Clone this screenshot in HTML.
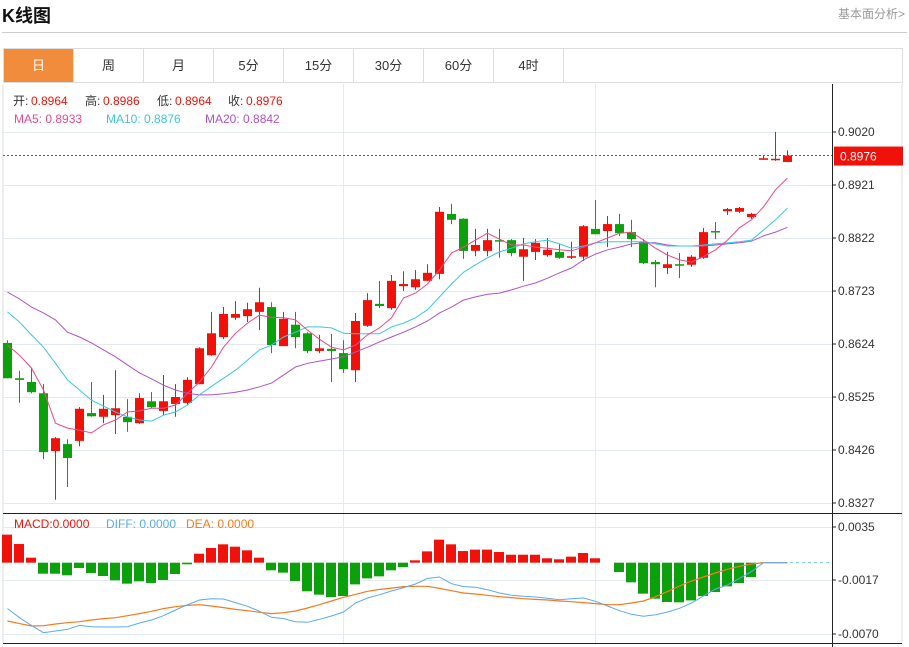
<!DOCTYPE html>
<html><head><meta charset="utf-8">
<style>
body{margin:0;width:909px;height:647px;background:#fff;overflow:hidden;font-family:"Liberation Sans","Noto Sans CJK SC",sans-serif;position:relative}
.title{position:absolute;left:2px;top:2px;font-size:18px;font-weight:bold;color:#111}
.more{position:absolute;right:4px;top:5px;font-size:12px;color:#999}
.hr{position:absolute;left:2px;top:32px;width:905px;height:1px;background:#ccc}
.tabs{position:absolute;left:3px;top:48px;width:900px;height:35px;border:1px solid #ddd;box-sizing:border-box;display:flex}
.tab{width:70px;height:100%;border-right:1px solid #ddd;box-sizing:border-box;font-size:13px;color:#333;text-align:center;line-height:34px}
.tab.on{background:#f08c3c;color:#fff}
svg{position:absolute;left:0;top:0}
</style></head><body>
<div class="title">K线图</div>
<div class="more">基本面分析&gt;</div>
<div class="hr"></div>
<div class="tabs">
<div class="tab on">日</div>
<div class="tab">周</div>
<div class="tab">月</div>
<div class="tab">5分</div>
<div class="tab">15分</div>
<div class="tab">30分</div>
<div class="tab">60分</div>
<div class="tab">4时</div>
</div>
<svg id="chart" width="909" height="647"></svg>
<script>
const opens=[0.8626,0.8560,0.8553,0.8532,0.8424,0.8437,0.8443,0.8495,0.8488,0.8491,0.8488,0.8476,0.8517,0.8499,0.8512,0.8514,0.8549,0.8603,0.8637,0.8673,0.8676,0.8684,0.8693,0.8620,0.8660,0.8644,0.8611,0.8615,0.8607,0.8575,0.8658,0.8699,0.8691,0.8732,0.8730,0.8742,0.8755,0.8867,0.8858,0.8798,0.8798,0.8818,0.8818,0.8787,0.8796,0.8790,0.8796,0.8785,0.8787,0.8839,0.8835,0.8848,0.8833,0.8815,0.8777,0.8766,0.8773,0.8772,0.8785,0.8835,0.8872,0.8871,0.8861,0.8968,0.8968,0.8964];
const highs=[0.8631,0.8574,0.8579,0.8549,0.8450,0.8446,0.8506,0.8553,0.8529,0.8575,0.8521,0.8532,0.8534,0.8566,0.8549,0.8562,0.8618,0.8684,0.8693,0.8704,0.8701,0.8729,0.8702,0.8684,0.8684,0.8646,0.8641,0.8643,0.8631,0.8682,0.8719,0.8742,0.8753,0.8760,0.8762,0.8773,0.8880,0.8886,0.8859,0.8839,0.8839,0.8839,0.8820,0.8822,0.8820,0.8822,0.8811,0.8815,0.8846,0.8893,0.8863,0.8867,0.8856,0.8820,0.8781,0.8796,0.8794,0.8790,0.8841,0.8852,0.8878,0.8880,0.8869,0.8975,0.9020,0.8986];
const lows=[0.8560,0.8514,0.8532,0.8409,0.8333,0.8357,0.8433,0.8488,0.8476,0.8456,0.8460,0.8475,0.8504,0.8491,0.8488,0.8510,0.8549,0.8602,0.8633,0.8669,0.8665,0.8650,0.8607,0.8620,0.8616,0.8607,0.8607,0.8553,0.8570,0.8553,0.8656,0.8691,0.8688,0.8723,0.8725,0.8742,0.8745,0.8848,0.8783,0.8788,0.8788,0.8785,0.8788,0.8742,0.8781,0.8787,0.8783,0.8783,0.8779,0.8829,0.8805,0.8826,0.8805,0.8773,0.8730,0.8755,0.8747,0.8768,0.8783,0.8820,0.8865,0.8869,0.8858,0.8968,0.8966,0.8964];
const closes=[0.8560,0.8557,0.8534,0.8422,0.8448,0.8411,0.8503,0.8489,0.8503,0.8504,0.8478,0.8523,0.8506,0.8517,0.8525,0.8557,0.8616,0.8644,0.8680,0.8680,0.8689,0.8702,0.8622,0.8671,0.8637,0.8611,0.8616,0.8611,0.8577,0.8667,0.8706,0.8695,0.8742,0.8736,0.8745,0.8757,0.8871,0.8856,0.8798,0.8809,0.8818,0.8816,0.8794,0.8801,0.8813,0.8800,0.8785,0.8788,0.8844,0.8829,0.8848,0.8831,0.8820,0.8775,0.8773,0.8773,0.8772,0.8787,0.8833,0.8833,0.8876,0.8878,0.8867,0.8971,0.8970,0.8976];
const ma5=[0.8622,0.8603,0.8579,0.8538,0.8476,0.8467,0.8463,0.8458,0.8473,0.8482,0.8497,0.8499,0.8504,0.8504,0.8510,0.8532,0.8553,0.8581,0.8618,0.8644,0.8663,0.8678,0.8674,0.8673,0.8669,0.8650,0.8633,0.8618,0.8613,0.8622,0.8641,0.8654,0.8673,0.8710,0.8719,0.8736,0.8762,0.8794,0.8805,0.8818,0.8831,0.8820,0.8809,0.8809,0.8805,0.8803,0.8800,0.8798,0.8805,0.8813,0.8822,0.8831,0.8833,0.8818,0.8803,0.8790,0.8781,0.8777,0.8787,0.8800,0.8818,0.8841,0.8856,0.8880,0.8912,0.8934];
const ma10=[0.8684,0.8665,0.8641,0.8618,0.8588,0.8557,0.8538,0.8519,0.8508,0.8497,0.8488,0.8482,0.8480,0.8491,0.8497,0.8510,0.8529,0.8545,0.8560,0.8575,0.8594,0.8613,0.8622,0.8637,0.8646,0.8656,0.8656,0.8654,0.8644,0.8643,0.8643,0.8643,0.8656,0.8663,0.8673,0.8688,0.8712,0.8736,0.8758,0.8772,0.8785,0.8796,0.8803,0.8811,0.8815,0.8818,0.8811,0.8803,0.8807,0.8813,0.8815,0.8815,0.8815,0.8815,0.8811,0.8807,0.8807,0.8807,0.8809,0.8811,0.8813,0.8815,0.8818,0.8837,0.8856,0.8878];
const ma20=[0.8721,0.8708,0.8693,0.8682,0.8669,0.8646,0.8637,0.8626,0.8613,0.8600,0.8585,0.8570,0.8559,0.8547,0.8538,0.8532,0.8529,0.8529,0.8531,0.8534,0.8538,0.8544,0.8551,0.8566,0.8581,0.8588,0.8592,0.8596,0.8600,0.8609,0.8618,0.8628,0.8637,0.8646,0.8656,0.8667,0.8682,0.8693,0.8706,0.8712,0.8717,0.8719,0.8725,0.8732,0.8738,0.8747,0.8757,0.8766,0.8781,0.8792,0.8800,0.8805,0.8811,0.8813,0.8813,0.8809,0.8807,0.8807,0.8807,0.8809,0.8811,0.8813,0.8816,0.8826,0.8833,0.8842];
const macdHist=[0.00275,0.00183,0.00049,-0.00108,-0.00108,-0.00124,-0.00052,-0.00101,-0.00131,-0.00173,-0.00206,-0.00183,-0.00199,-0.0017,-0.00111,-0.00016,0.00088,0.00144,0.0018,0.00157,0.00121,0.00049,-0.00075,-0.00098,-0.0018,-0.00281,-0.00314,-0.00337,-0.00327,-0.00213,-0.00154,-0.00134,-0.00075,-0.00043,0.00023,0.00111,0.00226,0.0018,0.00114,0.00128,0.00128,0.00105,0.00078,0.00078,0.00078,0.00043,0.00033,0.00059,0.00095,0.00043,0,-0.00092,-0.00193,-0.00304,-0.00353,-0.00386,-0.00389,-0.0037,-0.00327,-0.00288,-0.00232,-0.002,-0.00141,0,0,0];
const diff=[-0.00451,-0.0054,-0.00615,-0.00687,-0.0067,-0.00654,-0.00615,-0.00628,-0.00631,-0.00631,-0.00628,-0.00592,-0.00562,-0.0052,-0.00464,-0.00412,-0.00366,-0.00353,-0.00356,-0.00392,-0.00428,-0.00477,-0.00536,-0.00549,-0.00579,-0.00585,-0.00556,-0.00523,-0.00484,-0.00396,-0.00347,-0.00314,-0.00278,-0.00245,-0.00209,-0.00154,-0.00141,-0.00206,-0.00235,-0.00242,-0.00265,-0.00298,-0.0032,-0.0033,-0.00337,-0.0035,-0.00363,-0.00353,-0.00347,-0.00379,-0.00425,-0.00471,-0.00507,-0.00526,-0.0051,-0.00484,-0.00448,-0.00396,-0.00327,-0.00258,-0.00219,-0.00154,-0.00088,0,0,0];
const dea=[-0.00572,-0.00598,-0.00621,-0.00618,-0.00602,-0.00589,-0.00579,-0.00562,-0.00549,-0.0054,-0.0052,-0.005,-0.00477,-0.00451,-0.00432,-0.00419,-0.00412,-0.00425,-0.00441,-0.00458,-0.00471,-0.00487,-0.005,-0.00491,-0.00474,-0.00445,-0.00412,-0.00376,-0.0034,-0.00311,-0.00281,-0.00262,-0.00249,-0.00235,-0.00232,-0.00232,-0.00252,-0.00275,-0.00298,-0.00307,-0.0032,-0.00334,-0.00343,-0.00353,-0.0036,-0.00366,-0.00376,-0.00383,-0.00392,-0.00402,-0.00412,-0.00412,-0.00396,-0.00376,-0.00334,-0.00284,-0.00229,-0.0018,-0.00141,-0.00101,-0.00065,-0.00036,-0.00013,0,0,0];
const priceTicks=["0.9020","0.8921","0.8822","0.8723","0.8624","0.8525","0.8426","0.8327"];
const macdTicks=["0.0035","-0.0017","-0.0070"];
const lastPrice=0.8976;

const NS="http://www.w3.org/2000/svg";
const svg=document.getElementById('chart');
function el(tag,attrs,parent){const e=document.createElementNS(NS,tag);for(const k in attrs)e.setAttribute(k,attrs[k]);(parent||svg).appendChild(e);return e;}
const AX=832;
const xAt=i=>7+12*i;
const yP=p=>132+(0.9020-p)/0.0099*53;
const yM=v=>527+(0.0035-v)/0.0052*53;

// frame
const frame=el('g',{});


el('line',{x1:3,y1:84,x2:3,y2:643,stroke:'#ddd'},frame);
el('line',{x1:902,y1:84,x2:902,y2:643,stroke:'#ddd'},frame);
// grid
const grid=el('g',{stroke:'#e3ebf1','stroke-width':1});


priceTicks.forEach(t=>{const y=Math.round(yP(+t))+0.5;el('line',{x1:3,y1:y,x2:AX,y2:y},grid);});
macdTicks.forEach(t=>{const y=Math.round(yM(+t))+0.5;el('line',{x1:3,y1:y,x2:AX,y2:y},grid);});
[343.5,595.5].forEach(x=>el('line',{x1:x,y1:84,x2:x,y2:643},grid));
// axes
const axes=el('g',{stroke:'#222'});


el('line',{x1:AX+0.5,y1:84,x2:AX+0.5,y2:647},axes);
el('line',{x1:3,y1:513.5,x2:902,y2:513.5},axes);
el('line',{x1:3,y1:643.5,x2:902,y2:643.5},axes);
// tick labels
priceTicks.forEach(t=>{const y=yP(+t);
 el('line',{x1:AX,y1:y,x2:AX+4,y2:y,stroke:'#222'});
 const tx=el('text',{x:838,y:y+4,'font-size':12,fill:'#333'});tx.textContent=t;
 
 });
macdTicks.forEach(t=>{const y=yM(+t);
 el('line',{x1:AX,y1:y,x2:AX+4,y2:y,stroke:'#222'});
 const tx=el('text',{x:838,y:y+4,'font-size':12,fill:'#333'});tx.textContent=t;
 
 });
// last price line
const ly=yP(lastPrice);
const lp=el('line',{x1:3,y1:ly,x2:AX,y2:ly,stroke:'#e8251a','stroke-dasharray':'2,2'});


const lb=el('rect',{x:834,y:ly-9,width:69,height:19,fill:'#f0120a'});


const lt=el('text',{x:840,y:ly+5,'font-size':12,fill:'#fff'});lt.textContent=lastPrice.toFixed(4);


// candles
opens.forEach((o,i)=>{const c=closes[i],up=c>=o,col=up?'#f0120a':'#0ca00c',x=xAt(i);
 const g=el('g',{fill:col,stroke:col});
 
 
 el('line',{x1:x+0.5,y1:yP(highs[i]),x2:x+0.5,y2:yP(lows[i]),'stroke-width':1},g);
 const t=Math.min(yP(o),yP(c)),h=Math.max(1.5,Math.abs(yP(o)-yP(c)));
 el('rect',{x:x-4,y:t,width:9,height:h,stroke:'none'},g);});
// MA lines
function line(arr,yf,col,name,w){const pts=arr.map((v,i)=>xAt(i)+0.5+','+yf(v).toFixed(1)).join(' ');
 const p=el('polyline',{points:pts,fill:'none',stroke:col,'stroke-width':w||1});
 
 }
line(ma20,yP,'#b052c8','ma20-line');
line(ma10,yP,'#3cc8dc','ma10-line');
line(ma5,yP,'#ee4a86','ma5-line');
// MACD
const z=yM(0);
const zl=el('line',{x1:760,y1:z,x2:AX,y2:z,stroke:'#7cc8e8','stroke-dasharray':'3,3'});


macdHist.forEach((v,i)=>{if(v===0)return;const y=yM(v);
 const r=el('rect',{x:xAt(i)-5,y:Math.min(y,z),width:10,height:Math.abs(y-z),fill:v>0?'#f0120a':'#0ca00c'});
 
 });
line(dea,yM,'#f57a1e','dea-line',1.2);
line(diff,yM,'#5aaaf0','diff-line',1);
// legends
function txt(x,y,s,col,name){const t=el('text',{x:x,y:y,'font-size':12,fill:col});t.textContent=s;
 
 return t;}
txt(13,105,'开:','#333','open-label');txt(31,105,'0.8964','#f0120a','open-value');
txt(85,105,'高:','#333','high-label');txt(103,105,'0.8986','#f0120a','high-value');
txt(157,105,'低:','#333','low-label');txt(175,105,'0.8964','#f0120a','low-value');
txt(228,105,'收:','#333','close-label');txt(246,105,'0.8976','#f0120a','close-value');
txt(14,123,'MA5: 0.8933','#ee4a86','ma5-legend');
txt(106,123,'MA10: 0.8876','#3cc8dc','ma10-legend');
txt(205,123,'MA20: 0.8842','#b052c8','ma20-legend');
txt(14,528,'MACD:0.0000','#f0120a','macd-legend');
txt(106,528,'DIFF: 0.0000','#5aaaf0','diff-legend');
txt(186,528,'DEA: 0.0000','#f57a1e','dea-legend');
</script>
</body></html>
